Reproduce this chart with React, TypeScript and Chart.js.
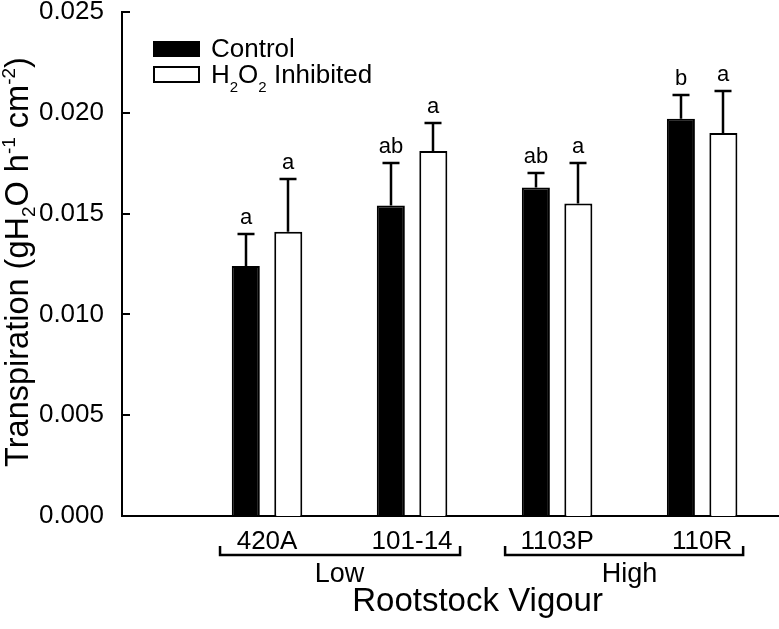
import React, { useEffect, useRef } from 'react';
import { Chart, registerables } from 'chart.js';

Chart.register(...registerables);

// ---------------- data ----------------
const rootstocks = ['420A', '101-14', '1103P', '110R'];
const positions = [1, 2, 3, 4];
const controlMean = [0.0124, 0.0154, 0.0163, 0.0197];
const controlSE = [0.0016, 0.0021, 0.0007, 0.0012];
const h2o2Mean = [0.0141, 0.0181, 0.0155, 0.019];
const h2o2SE = [0.0026, 0.0014, 0.002, 0.0021];
const controlLetters = ['a', 'ab', 'ab', 'b'];
const h2o2Letters = ['a', 'a', 'a', 'a'];
const yTicks = [0, 0.005, 0.01, 0.015, 0.02, 0.025];
const vigourGroups = ['Low', 'High'];
const vigourMembers = [
  [0, 1],
  [2, 3],
];

// ---------------- styles ----------------
const FONT = '"Liberation Sans", Arial, Helvetica, sans-serif';
const bracketPad = [
  [47, 48],
  [52, 41],
];

type Seg = { t: string; k: 'n' | 'sub' | 'sup' };

function drawRich(
  ctx: CanvasRenderingContext2D,
  segs: Seg[],
  x: number,
  y: number,
  main: number,
  small: number,
  subShift: number,
  supShift: number,
  align: 'left' | 'center'
) {
  const fontFor = (k: string) => `${k === 'n' ? main : small}px ${FONT}`;
  let total = 0;
  segs.forEach((s) => {
    ctx.font = fontFor(s.k);
    total += ctx.measureText(s.t).width;
  });
  let cx = align === 'center' ? x - total / 2 : x;
  ctx.textAlign = 'left';
  ctx.textBaseline = 'alphabetic';
  segs.forEach((s) => {
    ctx.font = fontFor(s.k);
    const dy = s.k === 'sub' ? subShift : s.k === 'sup' ? -supShift : 0;
    ctx.fillText(s.t, cx, y + dy);
    cx += ctx.measureText(s.t).width;
  });
}

const overlay = {
  id: 'overlay',
  beforeDraw(chart: any) {
    const ctx = chart.ctx;
    ctx.save();
    ctx.fillStyle = '#fff';
    ctx.fillRect(0, 0, chart.width, chart.height);
    ctx.restore();
  },
  afterDatasetsDraw(chart: any) {
    const ctx: CanvasRenderingContext2D = chart.ctx;
    const xs = chart.scales.x;
    const ys = chart.scales.y;
    const area = chart.chartArea;
    ctx.save();
    ctx.strokeStyle = '#000';
    ctx.fillStyle = '#000';
    ctx.lineWidth = 2;

    // inward y ticks
    yTicks.forEach((v) => {
      const py = Math.round(ys.getPixelForValue(v));
      ctx.beginPath();
      ctx.moveTo(area.left, py);
      ctx.lineTo(area.left + 8, py);
      ctx.stroke();
    });

    // error bars and letters
    const sets: [number[], number[], string[]][] = [
      [controlMean, controlSE, controlLetters],
      [h2o2Mean, h2o2SE, h2o2Letters],
    ];
    sets.forEach(([m, se, lt], di) => {
      const meta = chart.getDatasetMeta(di);
      meta.data.forEach((bar: any, i: number) => {
        const cx = Math.round(bar.x);
        const top = ys.getPixelForValue(m[i]);
        const cap = Math.round(ys.getPixelForValue(m[i] + se[i]));
        ctx.lineWidth = 2.5;
        ctx.beginPath();
        ctx.moveTo(cx, top);
        ctx.lineTo(cx, cap);
        ctx.moveTo(cx - 8.5, cap);
        ctx.lineTo(cx + 8.5, cap);
        ctx.stroke();
        ctx.font = `22px ${FONT}`;
        ctx.textAlign = 'center';
        ctx.textBaseline = 'alphabetic';
        ctx.fillText(lt[i], cx, cap - 10);
      });
    });

    // brackets and group labels
    const by = 555;
    vigourGroups.forEach((g, gi) => {
      const [a, b] = vigourMembers[gi];
      const pa = xs.getPixelForValue(positions[a]);
      const pb = xs.getPixelForValue(positions[b]);
      const l = pa - bracketPad[gi][0];
      const r = pb + bracketPad[gi][1];
      ctx.lineWidth = 2.5;
      ctx.beginPath();
      ctx.moveTo(l, by - 9);
      ctx.lineTo(l, by);
      ctx.lineTo(r, by);
      ctx.lineTo(r, by - 9);
      ctx.stroke();
      ctx.font = `27px ${FONT}`;
      ctx.textAlign = 'center';
      ctx.textBaseline = 'alphabetic';
      ctx.fillText(g, (pa + pb) / 2, 582);
    });

    // x title
    const x1 = xs.getPixelForValue(positions[0]);
    const x4 = xs.getPixelForValue(positions[positions.length - 1]);
    ctx.font = `33px ${FONT}`;
    ctx.textAlign = 'center';
    ctx.fillText('Rootstock Vigour', (x1 + x4) / 2 - 7, 611);

    // y title (rotated)
    ctx.save();
    ctx.translate(28, (area.top + area.bottom) / 2 - 2);
    ctx.rotate(-Math.PI / 2);
    drawRich(
      ctx,
      [
        { t: 'Transpiration (gH', k: 'n' },
        { t: '2', k: 'sub' },
        { t: 'O h', k: 'n' },
        { t: '-1', k: 'sup' },
        { t: ' cm', k: 'n' },
        { t: '-2', k: 'sup' },
        { t: ')', k: 'n' },
      ],
      0,
      0,
      32.5,
      19,
      7,
      13,
      'center'
    );
    ctx.restore();

    // legend
    ctx.fillStyle = '#000';
    ctx.fillRect(153, 41, 47, 16);
    ctx.lineWidth = 2;
    ctx.strokeRect(154, 67, 45, 15);
    drawRich(ctx, [{ t: 'Control', k: 'n' }], 211, 57, 26, 15, 9, 0, 'left');
    drawRich(
      ctx,
      [
        { t: 'H', k: 'n' },
        { t: '2', k: 'sub' },
        { t: 'O', k: 'n' },
        { t: '2', k: 'sub' },
        { t: ' Inhibited', k: 'n' },
      ],
      211,
      83,
      26,
      15,
      9,
      0,
      'left'
    );

    ctx.restore();
  },
};

export default function App() {
  const ref = useRef<HTMLCanvasElement>(null);
  useEffect(() => {
    document.body.style.margin = '0';
    Chart.defaults.font.family = FONT;
    Chart.defaults.color = '#000';
    const chart = new Chart(ref.current as HTMLCanvasElement, {
      type: 'bar',
      data: {
        datasets: [
          {
            label: 'Control',
            data: positions.map((p, i) => ({ x: p, y: controlMean[i] })),
            backgroundColor: '#000',
            borderColor: '#000',
            borderWidth: 2,
            categoryPercentage: 0.586,
            barPercentage: 0.66,
          },
          {
            label: 'H2O2 Inhibited',
            data: positions.map((p, i) => ({ x: p, y: h2o2Mean[i] })),
            backgroundColor: '#fff',
            borderColor: '#000',
            borderWidth: 2,
            categoryPercentage: 0.586,
            barPercentage: 0.66,
          },
        ],
      },
      options: {
        responsive: false,
        animation: false,
        devicePixelRatio: 1,
        layout: { padding: { top: 12, left: 0, right: 0, bottom: 0 } },
        plugins: { legend: { display: false }, tooltip: { enabled: false } },
        scales: {
          x: {
            type: 'linear',
            min: 0,
            max: 4.53,
            offset: false,
            grid: { display: false, offset: false },
            border: { display: true, color: '#000', width: 2 },
            ticks: {
              autoSkip: false,
              maxRotation: 0,
              padding: 2,
              color: '#000',
              font: { size: 26, family: FONT },
              callback: (v: any) => {
                const idx = positions.indexOf(Number(v));
                return idx >= 0 ? rootstocks[idx] : '';
              },
            },
            afterBuildTicks: (scale: any) => {
              scale.ticks = positions.map((p) => ({ value: p }));
            },
            afterFit: (scale: any) => {
              scale.height = 113;
              scale.paddingLeft = 0;
              scale.paddingRight = 0;
            },
          },
          y: {
            type: 'linear',
            min: 0,
            max: 0.025,
            grid: { display: false },
            border: { display: true, color: '#000', width: 2 },
            ticks: {
              stepSize: 0.005,
              padding: 10,
              color: '#000',
              font: { size: 26, family: FONT },
              callback: (v: any) => Number(v).toFixed(3),
            },
            afterFit: (scale: any) => {
              scale.width = 122;
              scale.paddingTop = 0;
              scale.paddingBottom = 0;
            },
          },
        },
      },
      plugins: [overlay],
    });
    return () => chart.destroy();
  }, []);
  return (
    <div style={{ width: 779, height: 629, background: '#fff' }}>
      <canvas ref={ref} width={779} height={629} style={{ display: 'block', width: 779, height: 629 }} />
    </div>
  );
}
